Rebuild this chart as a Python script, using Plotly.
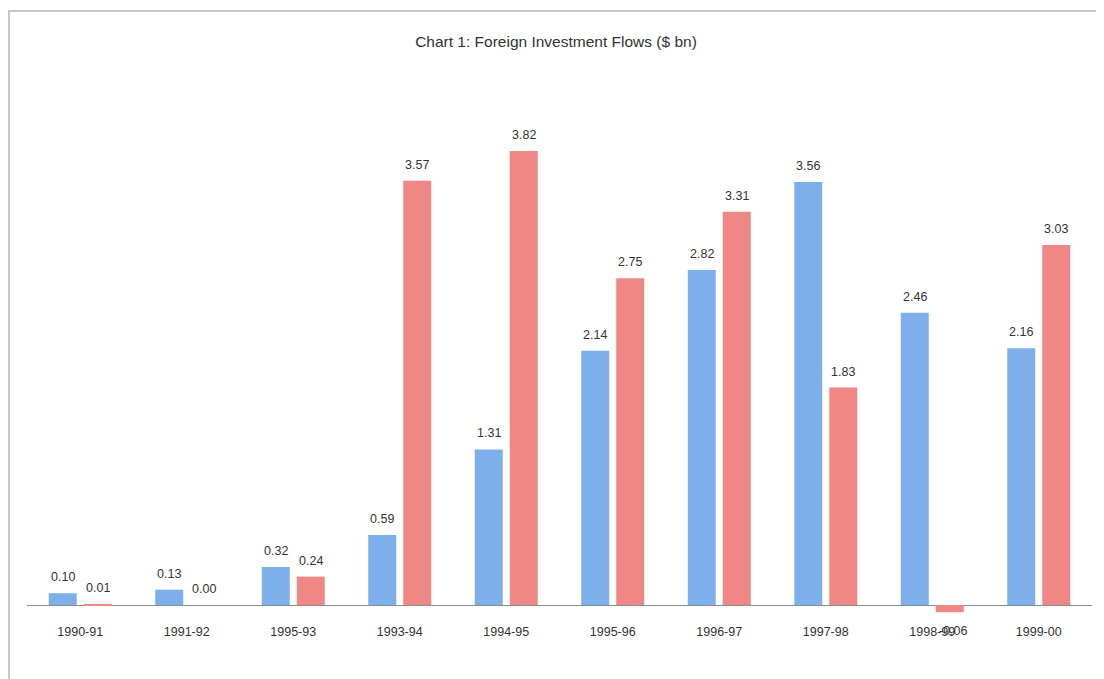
import plotly.graph_objects as go

categories = ["1990-91", "1991-92", "1995-93", "1993-94", "1994-95",
              "1995-96", "1996-97", "1997-98", "1998-99", "1999-00"]
series_a = [0.10, 0.13, 0.32, 0.59, 1.31, 2.14, 2.82, 3.56, 2.46, 2.16]
series_b = [0.01, 0.00, 0.24, 3.57, 3.82, 2.75, 3.31, 1.83, -0.06, 3.03]

# page body has an 8px margin, so the figure is sized/positioned to compensate
W, H = 1096, 671
ML, MR, MT, MB = 19, 12, 86, 62
FONT = "Liberation Sans, Arial"

fig = go.Figure()
fig.add_trace(go.Bar(x=categories, y=series_a, name="A",
                     marker=dict(color="#7db0ea", line=dict(width=0))))
fig.add_trace(go.Bar(x=categories, y=series_b, name="B",
                     marker=dict(color="#ef8884", line=dict(width=0))))

annotations = []
for cat, a, b in zip(categories, series_a, series_b):
    for v, shift in ((a, -17.5), (b, 17.5)):
        neg = v < 0
        annotations.append(dict(
            x=cat, y=v, xref="x", yref="y", text=f"{v:.2f}", showarrow=False,
            xshift=shift + (4 if neg else 0), yanchor="top" if neg else "bottom",
            yshift=-10 if neg else 7,
            font=dict(family=FONT, size=12.5, color="#333333")))

pw = W - ML - MR
ph = H - MT - MB
fig.add_shape(type="rect", xref="paper", yref="paper",
              x0=(1 - ML) / pw, x1=(W + 10 - ML) / pw,
              y0=-(H + 10 - MT - ph) / ph, y1=1 + (MT - 3) / ph,
              line=dict(color="#c8c8c8", width=2), fillcolor="rgba(0,0,0,0)", layer="below")

fig.update_layout(
    width=W, height=H,
    margin=dict(l=ML, r=MR, t=MT, b=MB),
    paper_bgcolor="white", plot_bgcolor="white",
    showlegend=False,
    barmode="group", bargap=0.343, bargroupgap=0.2,
    title=dict(text="Chart 1: Foreign Investment Flows ($ bn)",
               x=0.5, xanchor="center", y=1 - 34 / H, yanchor="middle",
               font=dict(family=FONT, size=15.5, color="#333333")),
    annotations=annotations,
    xaxis=dict(showgrid=False, showline=False, zeroline=False,
               ticks="outside", ticklen=3, tickcolor="rgba(0,0,0,0)",
               tickfont=dict(family=FONT, size=12.5, color="#333333")),
    yaxis=dict(range=[-0.1, 4.3], showgrid=False, showticklabels=False,
               showline=False, zeroline=True, zerolinecolor="#8c8c8c", zerolinewidth=1),
)

fig.write_html("out.html")
